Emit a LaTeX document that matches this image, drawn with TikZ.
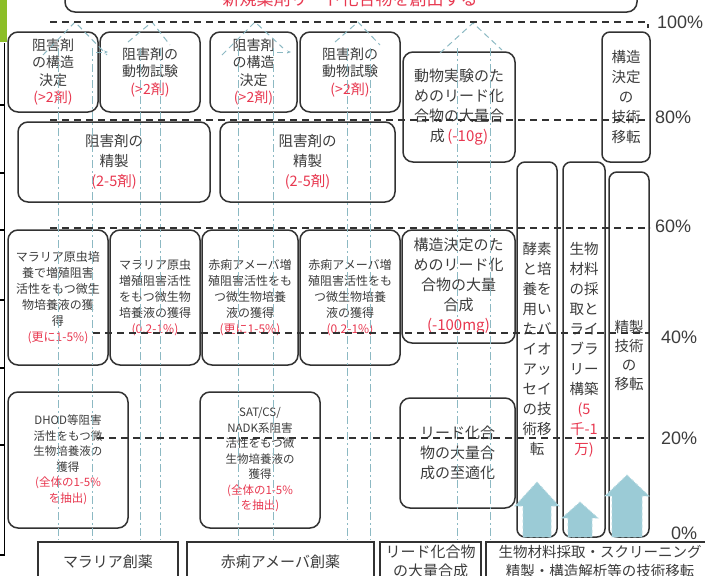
\documentclass[tikz,border=0pt]{standalone}
\usepackage{fontspec}
\newfontfamily\jp{Noto Sans CJK JP}
\newfontfamily\pctf{Liberation Sans}
\usetikzlibrary{arrows.meta}
\definecolor{txtc}{RGB}{60,60,60}
\definecolor{redt}{RGB}{232,56,80}
\definecolor{boxc}{RGB}{50,50,50}
\definecolor{faintc}{RGB}{140,185,195}
\definecolor{arrf}{RGB}{155,203,214}
\definecolor{greenbar}{RGB}{140,190,40}
\newcommand\rd[1]{{\color{redt}#1}}
\begin{document}
\begin{tikzpicture}[x=1pt,y=-1pt,
  bx/.style={draw=boxc,line width=1.5pt,rounded corners=10pt,fill=white,inner sep=0pt,text=txtc,align=center},
  fA/.style={font=\jp\fontsize{14}{17.5}\selectfont},
  fG/.style={font=\jp\fontsize{14.5}{20}\selectfont},
  fE/.style={font=\jp\fontsize{15}{20}\selectfont},
  fS/.style={font=\jp\fontsize{12}{16}\selectfont},
  fQ/.style={font=\jp\fontsize{11.5}{15.5}\selectfont},
  fT/.style={font=\jp\fontsize{14.5}{20}\selectfont,text=txtc,align=center,inner sep=0pt},
  pct/.style={font=\pctf\fontsize{18}{20}\selectfont,text=txtc,anchor=west,inner sep=0pt},
  lvl/.style={draw=boxc,line width=1.4pt,dash pattern=on 7pt off 5pt},
  fline/.style={draw=faintc,line width=1pt,dash pattern=on 8pt off 3pt on 2pt off 3pt},
  fhead/.style={draw=faintc,line width=1pt,dash pattern=on 6pt off 4pt},
  blk/.style={fill=arrf,draw=arrf!70!white,line width=0.8pt,dashed}]
\useasboundingbox (0,0) rectangle (705,576);
\clip (0,0) rectangle (705,576);

% left edge
\fill[greenbar] (0,0) rectangle (7,42) coordinate (gb);
\draw[black,line width=1.2pt] (4.5,43) coordinate (lt) -- (4.5,555) coordinate (lb) -- (0,555);
\foreach \yy in {105,173,230,300,368,445} \draw[black,line width=1.2pt] (0,\yy) -- (4.5,\yy);

% top box
\node[bx,minimum width=572,minimum height=52] (top) at (351,-14) {};
\node[inner sep=0pt,text=redt,font=\jp\fontsize{17}{20}\selectfont] (toptext) at (350,-1) {新規薬剤リード化合物を創出する};

% row 1
\node[bx,fA,minimum width=90,minimum height=80] (A) at (53,72) {阻害剤\\の構造\\決定\\\rd{(>2剤)}};
\node[bx,fA,minimum width=100,minimum height=80] (B) at (150,72) {阻害剤の\\動物試験\\\rd{(>2剤)}};
\node[bx,fA,minimum width=87,minimum height=80] (C) at (253.5,72) {阻害剤\\の構造\\決定\\\rd{(>2剤)}};
\node[bx,fA,minimum width=100,minimum height=80] (D) at (350,72) {阻害剤の\\動物試験\\\rd{(>2剤)}};
\node[bx,fE,minimum width=112,minimum height=110] (E) at (459,107) {動物実験のた\\めのリード化\\合物の大量合\\成\,\rd{(-10g)}};
\node[bx,fT,rounded corners=8pt,minimum width=48,minimum height=130] (F) at (626,97) {構造\\決定\\の\\技術\\移転};

% row 2
\node[bx,fG,minimum width=192,minimum height=80] (G) at (114,162) {阻害剤の\\精製\\\rd{(2-5剤)}};
\node[bx,fG,minimum width=175,minimum height=80] (H) at (307.5,162) {阻害剤の\\精製\\\rd{(2-5剤)}};

% tall boxes
\node[bx,rounded corners=8pt,minimum width=40,minimum height=375] (N) at (537,349.5) {};
\node[bx,rounded corners=8pt,minimum width=42,minimum height=375] (O) at (584,349.5) {};
\node[bx,rounded corners=8pt,minimum width=40,minimum height=365] (P) at (629,354.5) {};
\node[fT,anchor=north] (Nt) at (537,242) {酵素\\と培\\養を\\用い\\たバ\\イオ\\アッ\\セイ\\の技\\術移\\転};
\node[fT,anchor=north] (Ot) at (584,242) {生物\\材料\\の採\\取と\\ライ\\ブラ\\リー\\構築\\\rd{(5}\\\rd{千-1}\\\rd{万)}};
\node[fT,anchor=north,font=\jp\fontsize{14.5}{19}\selectfont] (Pt) at (629,320) {精製\\技術\\の\\移転};

% block arrows
\path[blk] (537,482) -- (559,506) -- (551,506) -- (551,537) -- (523,537) -- (523,506) -- (515,506) -- cycle;
\path[blk] (580,502) -- (598,518) -- (592,518) -- (592,537) -- (568,537) -- (568,518) -- (562,518) -- cycle;
\path[blk] (627,475) -- (649,496) -- (642,496) -- (642,537) -- (612,537) -- (612,496) -- (605,496) -- cycle;

% row 3
\node[bx,fS,minimum width=100,minimum height=135] (I) at (58,297.5) {マラリア原虫培\\養で増殖阻害\\活性をもつ微生\\物培養液の獲\\得\\\rd{(更に1-5\%)}};
\node[bx,fS,minimum width=90,minimum height=135] (J) at (155,297.5) {マラリア原虫\\増殖阻害活性\\をもつ微生物\\培養液の獲得\\\rd{(0.2-1\%)}};
\node[bx,fS,minimum width=96,minimum height=135] (K) at (250,297.5) {赤痢アメーバ増\\殖阻害活性をも\\つ微生物培養\\液の獲得\\\rd{(更に1-5\%)}};
\node[bx,fS,minimum width=100,minimum height=135] (L) at (350,297.5) {赤痢アメーバ増\\殖阻害活性をも\\つ微生物培養\\液の獲得\\\rd{(0.2-1\%)}};
\node[bx,fE,minimum width=113,minimum height=113] (M) at (458.5,286.5) {構造決定のた\\めのリード化\\合物の大量\\合成\\\rd{(-100mg)}};

% row 4
\node[bx,fQ,minimum width=120,minimum height=136] (Q) at (68,460) {DHOD等阻害\\活性をもつ微\\生物培養液の\\獲得\\\rd{(全体の1-5\%}\\\rd{を抽出)}};
\node[bx,fQ,minimum width=120,minimum height=136] (R) at (260,460) {SAT/CS/\\NADK系阻害\\活性をもつ微\\生物培養液の\\獲得\\\rd{(全体の1-5\%}\\\rd{を抽出)}};
\node[bx,fE,minimum width=115,minimum height=110] (S) at (457.5,453) {リード化合\\物の大量合\\成の至適化};

% bottom boxes
\node[bx,rounded corners=0pt,line width=1.2pt,minimum width=140,minimum height=68] (b1) at (108,576) {};
\node[bx,rounded corners=0pt,line width=1.2pt,minimum width=187,minimum height=68] (b2) at (280.5,576) {};
\node[bx,rounded corners=0pt,line width=1.2pt,minimum width=101,minimum height=68] (b3) at (430.5,576) {};
\node[bx,rounded corners=0pt,line width=1.2pt,minimum width=234,minimum height=68] (b4) at (603,576) {};
\node[fT,font=\jp\fontsize{15}{19}\selectfont] (b1t) at (108,562) {マラリア創薬};
\node[fT,font=\jp\fontsize{15}{19}\selectfont] (b2t) at (280.5,562) {赤痢アメーバ創薬};
\node[fT,font=\jp\fontsize{15}{19}\selectfont,anchor=north] (b3t) at (430.5,545) {リード化合物\\の大量合成};
\node[fT,font=\jp\fontsize{14.5}{19}\selectfont,anchor=north] (b4t) at (600,545) {生物材料採取・スクリーニング\\精製・構造解析等の技術移転};

% faint vertical guide arrows
\foreach \xx in {58,92,140,160,238,273,347,370,457,490}
  \draw[fline] (\xx,48) -- (\xx,540);
\draw[fhead] (43,55) -- (75,22) -- (107,55);
\draw[fhead] (128,42) -- (152,22) -- (170,45);
\draw[fhead] (222,55) -- (255,22) -- (283,48);
\draw[fhead] (335,42) -- (358,22) -- (380,45);
\draw[fhead] (440,53) -- (473,23) -- (502,50);
\draw[fhead,-{Stealth[length=4pt]}] (96,52) -- (108,52);
\draw[fhead,-{Stealth[length=4pt]}] (277,52) -- (291,52);

% level lines
\draw[lvl] (50,22) coordinate (l100a) -- (648,22) coordinate (l100b) -- (648,28);
\draw[lvl] (50,120) -- (650,120);
\draw[lvl] (50,228) -- (650,228);
\draw[lvl] (93,333) -- (650,333);
\draw[lvl] (97,438) -- (650,438);

% percent labels
\node[pct] (p100) at (657,22) {100\%};
\node[pct] (p80) at (655,117) {80\%};
\node[pct] (p60) at (655,226) {60\%};
\node[pct] (p40) at (661,337) {40\%};
\node[pct] (p20) at (661,438) {20\%};
\node[pct] (p0) at (671,533) {0\%};
\end{tikzpicture}
\end{document}
